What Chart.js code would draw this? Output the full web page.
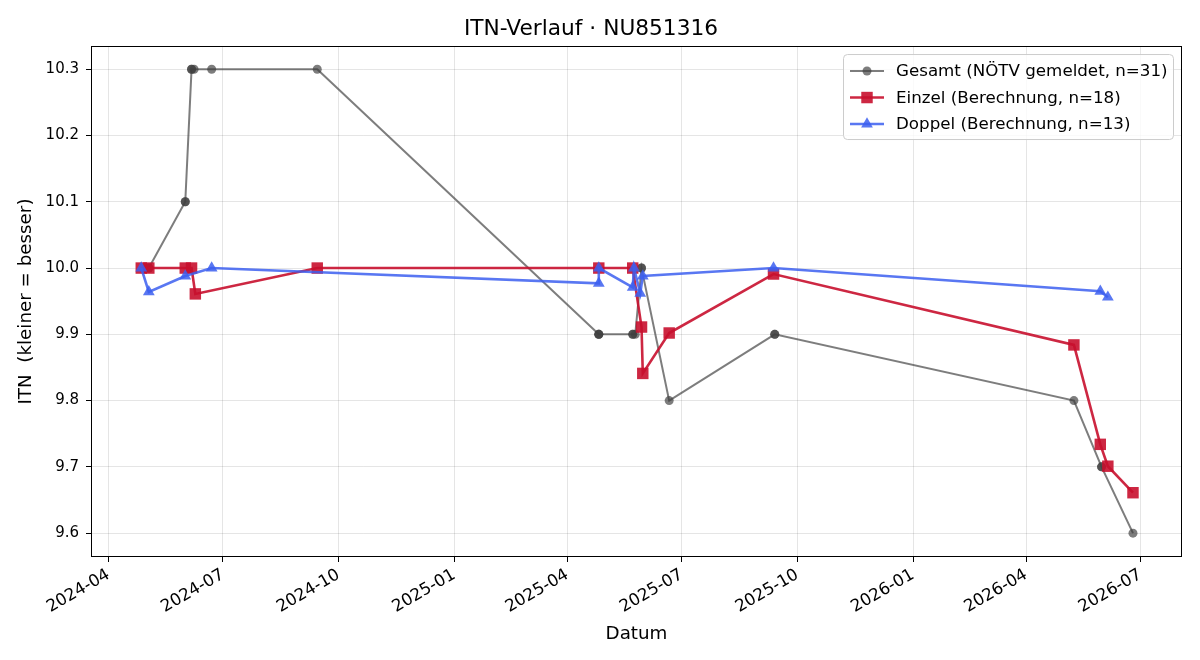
<!DOCTYPE html>
<html lang="de">
<head>
<meta charset="utf-8">
<title>ITN-Verlauf · NU851316</title>
<script src="https://cdn.jsdelivr.net/npm/chart.js@4.4.1/dist/chart.umd.min.js"></script>
<style>
    html, body { margin: 0; padding: 0; background: #fff; }
    #wrap { width: 1200px; height: 660px; }
</style>
</head>
<body>
<div id="wrap"><canvas id="itnChart" width="1200" height="660"></canvas></div>
<script>
// ── Daten ──────────────────────────────────────────────────────────────
const gesamtDatum = ['2024-05-03', '2024-05-03', '2024-06-01', '2024-06-01', '2024-06-06', '2024-06-06',
    '2024-06-08', '2024-06-22', '2024-09-14', '2025-04-26', '2025-04-26', '2025-04-26', '2025-05-23',
    '2025-05-23', '2025-05-25', '2025-05-30', '2025-05-30', '2025-06-21', '2025-09-13', '2025-09-13',
    '2026-05-09', '2026-05-31', '2026-05-31', '2026-06-25'];
const gesamtITN = [10.0, 10.0, 10.1, 10.1, 10.3, 10.3,
    10.3, 10.3, 10.3, 9.9, 9.9, 9.9, 9.9,
    9.9, 9.9, 10.0, 10.0, 9.8, 9.9, 9.9,
    9.8, 9.7, 9.7, 9.6];

const einzelDatum = ['2024-04-27', '2024-05-03', '2024-06-01', '2024-06-06', '2024-06-09', '2024-09-14',
    '2025-04-26', '2025-05-23', '2025-05-30', '2025-05-31', '2025-06-21', '2025-09-12',
    '2026-05-09', '2026-05-30', '2026-06-05', '2026-06-25'];
const einzelITN = [10.0, 10.0, 10.0, 10.0, 9.961, 10.0,
    10.0, 10.0, 9.911, 9.841, 9.902, 9.991,
    9.884, 9.734, 9.701, 9.661];

const doppelDatum = ['2024-04-27', '2024-05-03', '2024-06-01', '2024-06-22', '2025-04-26', '2025-04-26',
    '2025-05-23', '2025-05-24', '2025-05-29', '2025-05-31', '2025-09-12', '2026-05-30', '2026-06-05'];
const doppelITN = [10.0, 9.964, 9.988, 10.0, 9.977, 10.0,
    9.971, 10.0, 9.962, 9.988, 10.0, 9.965, 9.956];

const xTickLabels = ['2024-04', '2024-07', '2024-10', '2025-01', '2025-04',
    '2025-07', '2025-10', '2026-01', '2026-04', '2026-07'];
const yTicks = [9.6, 9.7, 9.8, 9.9, 10.0, 10.1, 10.2, 10.3];
const xMin = '2024-03-18';
const xMax = '2026-08-03';
const yMin = 9.564;
const yMax = 10.335;

const FONT = "'DejaVu Sans', 'Liberation Sans', sans-serif";
Chart.defaults.font.family = FONT;
Chart.defaults.color = '#000';

function toPoints(datum, werte) {
    return datum.map((d, i) => ({ x: Date.parse(d), y: werte[i] }));
}

// ── Rahmen + Legende (im Stil von matplotlib) ───────────────────────────
const rahmenLegende = {
    id: 'rahmenLegende',
    afterDraw(chart) {
        const { ctx, chartArea: a } = chart;
        ctx.save();
        ctx.strokeStyle = '#000';
        ctx.lineWidth = 1;
        ctx.strokeRect(Math.round(a.left) + 0.5, Math.round(a.top) + 0.5,
            Math.round(a.right - a.left) - 1, Math.round(a.bottom - a.top) - 1);

        const w = 330, h = 85;
        const x0 = a.right - 9 - w, y0 = a.top + 8;
        ctx.beginPath();
        ctx.roundRect(x0 + 0.5, y0 + 0.5, w, h, 4);
        ctx.fillStyle = 'rgba(255,255,255,0.8)';
        ctx.fill();
        ctx.strokeStyle = '#cccccc';
        ctx.stroke();

        ctx.font = '16.7px ' + FONT;
        ctx.textBaseline = 'middle';
        chart.data.datasets.forEach((ds, i) => {
            const y = y0 + 17 + i * 26.5;
            ctx.beginPath();
            ctx.strokeStyle = ds.borderColor;
            ctx.lineWidth = ds.borderWidth;
            ctx.moveTo(x0 + 7, y);
            ctx.lineTo(x0 + 41, y);
            ctx.stroke();
            ctx.fillStyle = ds.pointBackgroundColor;
            Chart.helpers.drawPoint(ctx, {
                pointStyle: ds.pointStyle, radius: ds.pointRadius, rotation: 0, borderWidth: 0
            }, x0 + 24, y);
            ctx.fillStyle = '#000';
            ctx.fillText(ds.label, x0 + 53, y + 1);
        });
        ctx.restore();
    }
};

const ctx = document.getElementById('itnChart').getContext('2d');
const itnChart = new Chart(ctx, {
    type: 'line',
    data: {
        datasets: [
            {
                label: 'Gesamt (NÖTV gemeldet, n=31)',
                data: toPoints(gesamtDatum, gesamtITN),
                borderColor: 'rgba(64, 64, 64, 0.68)',
                pointBackgroundColor: 'rgba(64, 64, 64, 0.68)',
                borderWidth: 2,
                pointStyle: 'circle',
                pointRadius: 4.5,
                pointBorderWidth: 0,
                order: 3
            },
            {
                label: 'Einzel (Berechnung, n=18)',
                data: toPoints(einzelDatum, einzelITN),
                borderColor: 'rgba(200, 16, 46, 0.9)',
                pointBackgroundColor: 'rgba(200, 16, 46, 0.9)',
                borderWidth: 2.6,
                pointStyle: 'rect',
                pointRadius: 8.1,
                pointBorderWidth: 0,
                order: 2
            },
            {
                label: 'Doppel (Berechnung, n=13)',
                data: toPoints(doppelDatum, doppelITN),
                borderColor: 'rgba(60, 95, 240, 0.85)',
                pointBackgroundColor: 'rgba(60, 95, 240, 0.85)',
                borderWidth: 2.6,
                pointStyle: 'triangle',
                pointRadius: 6.8,
                pointBorderWidth: 0,
                order: 1
            }
        ]
    },
    options: {
        responsive: false,
        animation: false,
        devicePixelRatio: 1,
        layout: { padding: { left: 0, right: 18, top: 0, bottom: 0 } },
        plugins: {
            legend: { display: false },
            tooltip: { enabled: false },
            title: {
                display: true,
                text: 'ITN-Verlauf · NU851316',
                font: { size: 21.7, weight: 'normal' },
                color: '#000',
                padding: { top: 16, bottom: 4 }
            }
        },
        scales: {
            x: {
                type: 'linear',
                min: Date.parse(xMin),
                max: Date.parse(xMax),
                afterBuildTicks: (scale) => {
                    scale.ticks = xTickLabels.map(l => ({ value: Date.parse(l + '-01') }));
                },
                afterFit: (scale) => { scale.height = 103; },
                ticks: {
                    autoSkip: false,
                    minRotation: 30,
                    maxRotation: 30,
                    padding: 3,
                    font: { size: 16.7 },
                    color: '#000',
                    callback: (value, index) => xTickLabels[index]
                },
                grid: { color: 'rgba(0,0,0,0.1)', tickColor: '#000', tickLength: 5 },
                border: { display: false },
                title: {
                    display: true,
                    text: 'Datum',
                    font: { size: 18.3 },
                    color: '#000',
                    padding: { top: 0, bottom: 15 }
                }
            },
            y: {
                type: 'linear',
                min: yMin,
                max: yMax,
                afterBuildTicks: (scale) => {
                    scale.ticks = yTicks.map(v => ({ value: v }));
                },
                afterFit: (scale) => { scale.width = 91; },
                ticks: {
                    padding: 7,
                    font: { size: 15 },
                    color: '#000',
                    callback: (value) => value.toFixed(1)
                },
                grid: { color: 'rgba(0,0,0,0.1)', tickColor: '#000', tickLength: 5 },
                border: { display: false },
                title: {
                    display: true,
                    text: 'ITN  (kleiner = besser)',
                    font: { size: 18.3 },
                    color: '#000',
                    padding: { top: 15, bottom: 0 }
                }
            }
        }
    },
    plugins: [rahmenLegende]
});
</script>
</body>
</html>
